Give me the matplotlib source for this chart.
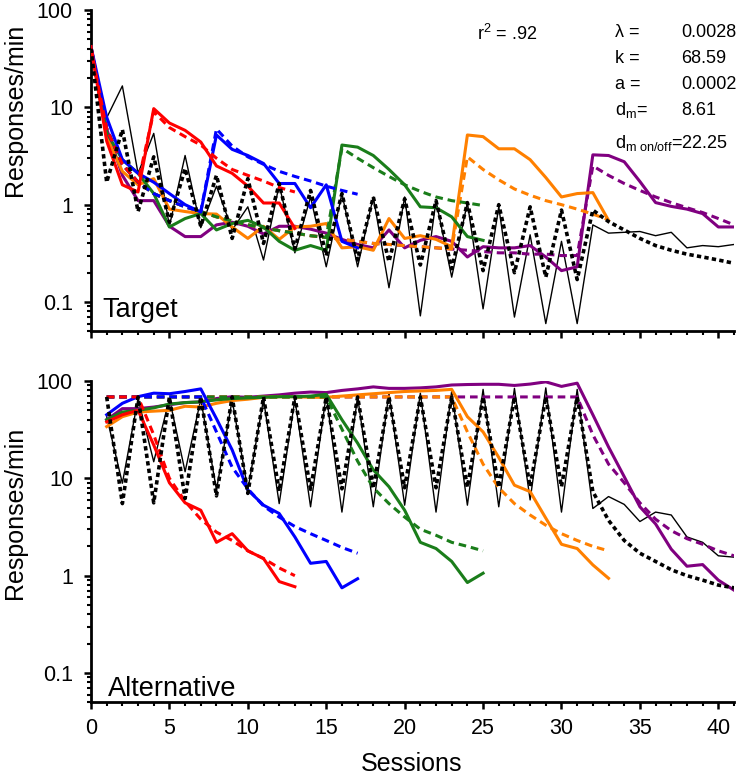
import matplotlib.pyplot as plt
from matplotlib.ticker import MultipleLocator
import numpy as np

plt.rcParams['font.family'] = ['Liberation Sans', 'DejaVu Sans']
plt.rcParams['mathtext.fontset'] = 'custom'
plt.rcParams['mathtext.rm'] = 'Liberation Sans'
plt.rcParams['mathtext.it'] = 'Liberation Sans:italic'

# groups: session at which alternative reinforcement is removed, last session
groups = ['purple', 'orange', 'green', 'blue', 'red']
colors = {'red': '#ff0000', 'blue': '#0000ff', 'green': '#1a7d1a',
          'orange': '#ff8000', 'purple': '#800080'}
switch = {'red': 4, 'blue': 8, 'green': 16, 'orange': 24, 'purple': 32}

# ---- Target responses (sessions 0..end) ----
tgt_onoff = [40, 7.8, 16.6, 2.1, 5.4, 0.6, 3.2, 0.58, 1.55, 0.55, 0.95, 0.27, 1.6, 0.32,
             1.2, 0.23, 1.3, 0.23, 1.2, 0.14, 1.2, 0.072, 1.1, 0.18, 1.05, 0.085, 0.95,
             0.07, 0.49, 0.06, 0.42, 0.06, 0.62, 0.51, 0.52, 0.53, 0.48, 0.52, 0.36, 0.38,
             0.37, 0.39]
tgt_fit_onoff = [40, 1.7, 5.9, 0.85, 3.1, 0.66, 2.35, 0.6, 2.0, 0.45, 1.85, 0.4, 1.65, 0.35,
                 1.4, 0.3, 1.3, 0.27, 1.2, 0.26, 1.15, 0.24, 1.1, 0.22, 1.05, 0.21, 1.0, 0.2,
                 0.95, 0.18, 0.88, 0.17, 0.88, 0.67, 0.55, 0.45, 0.38, 0.34, 0.31, 0.29,
                 0.27, 0.25]
tgt_obs = {
    'red': [42, 4.5, 1.6, 1.35, 9.7, 6.9, 5.8, 4.4, 2.5, 2.1, 1.55, 1.04, 1.04, 0.57],
    'blue': [42, 7.9, 2.9, 2.1, 1.7, 1.3, 1.0, 0.84, 5.2, 3.7, 3.2, 2.65, 1.65, 1.65, 0.93,
             1.6, 0.42, 0.36],
    'green': [42, 5.5, 2.9, 2.1, 1.3, 0.59, 0.72, 0.81, 0.55, 0.64, 0.69, 0.59, 0.42, 0.34,
              0.38, 0.34, 4.1, 3.9, 3.2, 2.3, 1.6, 0.95, 0.93, 0.75, 0.47, 0.43],
    'orange': [42, 5.0, 2.2, 1.6, 1.85, 0.9, 0.85, 0.81, 0.8, 0.59, 0.45, 0.6, 0.44, 0.59,
               0.6, 0.64, 0.36, 0.37, 0.34, 0.72, 0.45, 0.48, 0.44, 0.37, 5.2, 5.0, 3.75,
               3.75, 2.9, 1.9, 1.2, 1.3, 1.33, 0.69],
    'purple': [42, 6.0, 2.0, 1.1, 1.1, 0.6, 0.47, 0.47, 0.62, 0.66, 0.6, 0.5, 0.6, 0.6, 0.56,
               0.51, 0.44, 0.39, 0.36, 0.55, 0.36, 0.43, 0.47, 0.42, 0.29, 0.37, 0.36, 0.36,
               0.38, 0.29, 0.21, 0.23, 3.25, 3.2, 2.76, 1.73, 1.05, 0.96, 0.9, 0.81, 0.59,
               0.59],
}
# model: extinction of target during alternative reinforcement (sessions 0..31)
tgt_fit_ext = [40, 6.0, 2.6, 1.7, 1.3, 1.1, 0.95, 0.85, 0.75, 0.68, 0.62, 0.58, 0.54, 0.51,
               0.48, 0.46, 0.44, 0.42, 0.40, 0.39, 0.38, 0.37, 0.36, 0.35, 0.34, 0.33, 0.32,
               0.32, 0.31, 0.31, 0.30, 0.30]
# model: resurgence after alternative removed
tgt_fit_res = {
    'red': [9.0, 6.2, 5.0, 4.1, 3.0, 2.3, 2.0, 1.75, 1.5, 1.35],
    'blue': [6.0, 4.0, 3.1, 2.6, 2.2, 1.95, 1.75, 1.55, 1.4, 1.28],
    'green': [3.8, 3.0, 2.4, 1.95, 1.6, 1.37, 1.2, 1.1, 1.04, 0.98],
    'orange': [3.1, 2.3, 1.8, 1.45, 1.25, 1.1, 1.0, 0.9, 0.8, 0.7],
    'purple': [2.5, 2.0, 1.65, 1.4, 1.2, 1.05, 0.93, 0.83, 0.72, 0.62],
}

# ---- Alternative responses (sessions 1..end) ----
alt_onoff = [43, 8.9, 66, 14.8, 66, 11.7, 65, 7.6, 64, 7.6, 65, 5.5, 65, 5.1, 72, 4.5, 69,
             5.1, 75, 5.3, 75, 4.5, 79, 5.3, 82, 5.1, 84, 6.0, 85, 4.5, 82, 4.9, 6.5, 5.4,
             3.6, 4.5, 4.2, 2.5, 2.2, 1.6, 1.55]
alt_fit_onoff = [68.6, 5.5, 68.6, 5.6, 68.6, 6.2, 68.6, 6.6, 68.6, 7.0, 68.6, 7.4, 68.6, 7.7,
                 68.6, 7.8, 68.6, 7.9, 68.6, 8.0, 68.6, 8.0, 68.6, 8.1, 68.6, 8.1, 68.6, 8.2,
                 68.6, 8.2, 68.6, 7.3, 3.7, 2.3, 1.7, 1.4, 1.15, 1.0, 0.9, 0.8, 0.75]
alt_obs = {
    'red': [38, 45, 50, 22, 9.0, 5.6, 4.7, 2.2, 2.7, 1.8, 1.5, 0.87, 0.77],
    'blue': [45, 59, 69, 75, 74, 78, 83, 41, 19.6, 7.6, 5.3, 4.35, 2.5, 1.34, 1.4, 0.75, 0.93],
    'green': [40, 48, 50, 53, 58, 60, 61, 64, 66, 67, 68, 69, 69, 70, 73, 40, 23, 12.2, 8.2,
              4.7, 2.2, 1.9, 1.4, 0.85, 1.06],
    'orange': [34, 43, 48, 49, 50, 55, 54, 59, 63, 65, 68, 69, 69, 68, 68, 70, 72, 74, 76, 78,
               79, 80, 82, 43, 30, 16.4, 8.5, 7.3, 3.9, 2.1, 1.9, 1.29, 0.94],
    'purple': [40, 52, 52, 54, 57, 60, 61, 66, 69, 68, 70, 72, 75, 77, 76, 80, 83, 87, 84, 84,
               85, 87, 91, 92, 92.5, 92.5, 90, 93, 98, 88, 95, 45, 21, 10.4, 5.1, 3.4, 1.87,
               1.25, 1.3, 0.9, 0.71],
}
alt_fit_k = 68.59
alt_fit_res = {
    'red': [28, 10, 5.8, 3.8, 2.8, 2.3, 1.8, 1.5, 1.2, 1.0],
    'blue': [30, 13, 7.8, 5.2, 4.0, 3.2, 2.7, 2.3, 1.95, 1.7],
    'green': [32, 15, 8.0, 5.5, 4.0, 3.0, 2.6, 2.2, 2.0, 1.8],
    'orange': [30, 14, 8.0, 5.5, 4.2, 3.3, 2.7, 2.3, 2.0, 1.8],
    'purple': [28, 14, 9.0, 5.6, 3.8, 2.9, 2.4, 2.1, 1.8, 1.6],
}

W, H = 742, 779
fig = plt.figure(figsize=(W / 100, H / 100), dpi=100)
ax1 = fig.add_axes([91 / W, 1 - 331.3 / H, 643 / W, 321.3 / H])
ax2 = fig.add_axes([91 / W, 1 - 702.3 / H, 643 / W, 321.3 / H])

dash_col = (2.5, 1.6)
dash_blk = (1.2, 0.9)

# target panel
ax1.plot(np.arange(len(tgt_onoff)), tgt_onoff, color='k', lw=1.0, zorder=2)
for g in groups:
    y = tgt_obs[g]
    ax1.plot(np.arange(len(y)), y, color=colors[g], lw=2.2, zorder=3)
    yf = tgt_fit_ext[:switch[g]] + tgt_fit_res[g]
    ax1.plot(np.arange(len(yf)), yf, color=colors[g], lw=2.2, dashes=dash_col, zorder=3)
ax1.plot(np.arange(len(tgt_fit_onoff)), tgt_fit_onoff, color='k', lw=2.6, dashes=dash_blk,
         zorder=4)

# alternative panel
ax2.plot(np.arange(1, len(alt_onoff) + 1), alt_onoff, color='k', lw=1.0, zorder=2)
for g in groups:
    y = alt_obs[g]
    ax2.plot(np.arange(1, len(y) + 1), y, color=colors[g], lw=2.2, zorder=3)
    yf = [alt_fit_k] * (switch[g] - 1) + alt_fit_res[g]
    ax2.plot(np.arange(1, len(yf) + 1), yf, color=colors[g], lw=2.2, dashes=dash_col, zorder=3)
ax2.plot(np.arange(1, len(alt_fit_onoff) + 1), alt_fit_onoff, color='k', lw=2.6,
         dashes=dash_blk, zorder=4)

for ax in (ax1, ax2):
    ax.set_yscale('log')
    ax.set_ylim(0.05, 100)
    ax.set_xlim(0, 41)
    ax.set_yticks([0.1, 1, 10, 100])
    ax.set_yticklabels(['0.1', '1', '10', '100'])
    ax.xaxis.set_major_locator(MultipleLocator(5))
    ax.xaxis.set_minor_locator(MultipleLocator(1))
    for s in ('top', 'right'):
        ax.spines[s].set_visible(False)
    for s in ('left', 'bottom'):
        ax.spines[s].set_linewidth(2.0)
    ax.tick_params(which='major', length=5, width=1.8, labelsize=15.5, direction='out')
    ax.tick_params(which='minor', length=3, width=1.5, direction='out')
    ax.tick_params(axis='y', pad=8)
    ax.tick_params(axis='x', pad=6)
    ax.set_ylabel('Responses/min', fontsize=18)

ax1.tick_params(labelbottom=False)
ax1.yaxis.set_label_coords(-0.1, 0.69)
ax2.yaxis.set_label_coords(-0.1, 0.59)

ax1.text(0.018, 0.045, 'Target', transform=ax1.transAxes, fontsize=19.5, va='baseline')
ax2.text(0.026, 0.02, 'Alternative', transform=ax2.transAxes, fontsize=19.5, va='baseline')
fig.text(412 / W, 8 / H, 'Sessions', fontsize=18, ha='center', va='baseline')

fig.text(477 / W, 1 - 40 / H, r'r$^{\mathregular{2}}$ = .92', fontsize=13, va='baseline')
params = [('λ =', '0.0028', 37), ('k =', '68.59', 63), ('a =', '0.0002', 89),
          (r'd$_{\mathregular{m}}$=', '8.61', 115)]
for lab, val, yb in params:
    fig.text(615 / W, 1 - yb / H, lab, fontsize=13, va='baseline')
    fig.text(681 / W, 1 - yb / H, val, fontsize=13, va='baseline')
fig.text(615 / W, 1 - 148 / H, r'd$_{\mathregular{m\ on/off}}$=22.25', fontsize=13,
         va='baseline')

fig.savefig('out.png', dpi=100)
